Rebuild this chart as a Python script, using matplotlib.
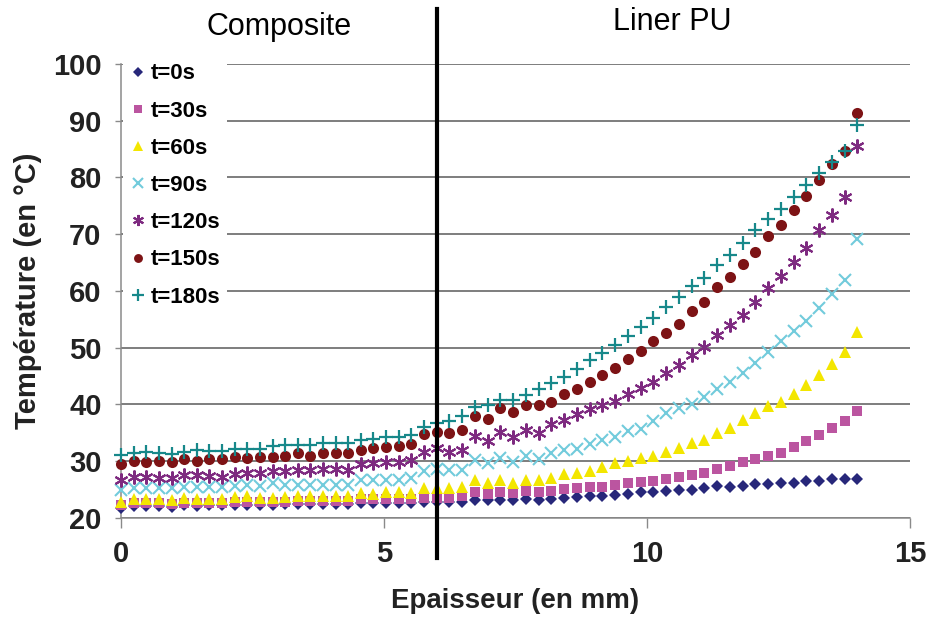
import matplotlib

matplotlib.use("Agg")
import matplotlib.pyplot as plt

plt.rcParams["font.family"] = ["Liberation Sans", "DejaVu Sans"]

# thickness positions (mm): composite 0-6 mm, PU liner 6-14 mm
X = [0.00, 0.24, 0.48, 0.72, 0.96, 1.20, 1.44, 1.68, 1.92, 2.16, 2.40, 2.64, 2.88,
     3.12, 3.36, 3.60, 3.84, 4.08, 4.32, 4.56, 4.80, 5.04, 5.28, 5.52, 5.76, 6.00,
     6.24, 6.48, 6.73, 6.97, 7.21, 7.45, 7.70, 7.94, 8.18, 8.42, 8.67, 8.91, 9.15,
     9.39, 9.64, 9.88, 10.12, 10.36, 10.61, 10.85, 11.09, 11.33, 11.58, 11.82,
     12.06, 12.30, 12.55, 12.79, 13.03, 13.27, 13.52, 13.76, 14.00]

T0 = [21.8, 22.1, 22.1, 22.1, 22.0, 22.2, 22.1, 22.2, 22.2, 22.3, 22.3, 22.3, 22.3, 22.4,
      22.4, 22.4, 22.5, 22.5, 22.5, 22.6, 22.6, 22.7, 22.7, 22.7, 22.8, 22.9,
      22.8, 22.8, 23.2, 23.1, 23.2, 23.2, 23.4, 23.2, 23.4, 23.5, 23.7, 23.8, 23.9, 24.1, 24.2, 24.5,
      24.6, 24.8, 24.9, 24.9, 25.2, 25.6, 25.5, 25.6, 26.0, 26.0, 26.2, 26.2, 26.6, 26.6, 26.8, 26.8, 26.8]
T30 = [22.3, 22.6, 22.6, 22.6, 22.5, 22.7, 22.6, 22.6, 22.6, 22.8, 22.9, 22.8, 22.8, 22.9,
       23.0, 23.0, 23.0, 23.0, 23.0, 23.3, 23.3, 23.4, 23.4, 23.4, 23.6, 23.6,
       23.6, 23.8, 24.5, 24.2, 24.5, 24.4, 24.8, 24.5, 24.8, 25.1, 25.2, 25.4, 25.4, 25.8, 26.1, 26.4,
       26.5, 26.8, 27.3, 27.6, 27.9, 28.6, 29.2, 29.8, 30.4, 30.9, 31.5, 32.5, 33.5, 34.6, 35.8, 37.1, 38.9]
T60 = [22.9, 23.4, 23.4, 23.4, 23.2, 23.5, 23.4, 23.4, 23.4, 23.7, 23.8, 23.5, 23.5, 23.7,
       23.9, 23.9, 23.9, 23.9, 23.9, 24.4, 24.2, 24.5, 24.5, 24.4, 25.2, 25.2,
       25.2, 25.5, 26.7, 26.1, 26.7, 26.2, 26.7, 26.7, 27.0, 27.8, 28.0, 28.3, 28.9, 29.6, 30.1, 30.5,
       31.0, 31.7, 32.3, 33.2, 33.8, 35.0, 35.9, 37.2, 38.5, 39.8, 40.5, 41.9, 43.5, 45.2, 47.1, 49.3, 52.7]
T90 = [24.9, 25.2, 25.2, 25.2, 25.2, 25.5, 25.4, 25.4, 25.4, 25.7, 25.8, 25.7, 26.1, 25.8,
       25.8, 25.8, 25.8, 25.8, 25.8, 26.7, 26.7, 26.7, 26.7, 27.0, 28.2, 28.6,
       28.5, 28.5, 30.2, 29.6, 30.5, 29.9, 31.0, 30.4, 31.4, 32.0, 32.2, 33.1, 33.8, 34.3, 35.3, 35.6,
       37.0, 38.5, 39.3, 40.1, 41.4, 42.7, 44.0, 45.5, 47.3, 49.2, 51.1, 52.9, 54.7, 57.0, 59.5, 62.0, 69.2]
T120 = [26.7, 27.2, 27.2, 27.0, 27.0, 27.6, 27.5, 27.4, 27.3, 27.8, 28.0, 27.9, 28.2, 28.3,
        28.5, 28.5, 28.6, 28.6, 28.5, 29.5, 29.6, 29.9, 29.9, 30.2, 31.7, 32.3,
        31.7, 32.0, 34.5, 33.6, 35.1, 34.2, 35.5, 35.0, 36.5, 37.3, 38.3, 39.2, 39.9, 40.6, 41.9, 42.9,
        44.0, 45.6, 47.0, 48.7, 50.2, 52.3, 54.0, 55.8, 58.0, 60.5, 62.7, 65.1, 67.6, 70.7, 73.4, 76.5, 85.5]
T150 = [29.5, 30.1, 29.9, 30.1, 29.8, 30.4, 30.1, 30.4, 30.4, 30.7, 30.6, 30.7, 30.7, 31.0,
        31.4, 31.0, 31.4, 31.4, 31.4, 32.0, 32.3, 32.5, 32.6, 33.0, 34.8, 35.2,
        34.9, 35.5, 37.9, 37.5, 39.3, 38.7, 39.9, 39.9, 40.5, 41.8, 42.8, 43.9, 45.2, 46.5, 48.0, 49.5,
        51.1, 52.6, 54.2, 56.4, 58.1, 60.7, 62.5, 64.7, 66.9, 69.6, 71.7, 74.2, 76.7, 79.5, 82.3, 84.7, 91.3]
T180 = [31.1, 31.4, 31.6, 31.5, 31.2, 31.7, 31.9, 31.8, 31.8, 32.1, 32.2, 32.2, 32.6, 32.8,
        32.9, 32.9, 33.2, 33.2, 33.2, 33.8, 33.9, 34.3, 34.3, 34.6, 36.1, 36.8,
        37.0, 37.9, 39.5, 39.9, 40.8, 40.8, 41.7, 42.7, 43.8, 44.9, 46.2, 47.9, 49.0, 50.5, 52.1, 53.6,
        55.2, 57.2, 58.9, 60.8, 62.3, 64.5, 66.4, 68.4, 70.7, 72.6, 74.4, 76.5, 78.7, 80.7, 82.7, 84.7, 89.3]

LABELS = ["t=0s", "t=30s", "t=60s", "t=90s", "t=120s", "t=150s", "t=180s"]
SERIES = [T0, T30, T60, T90, T120, T150, T180]
STYLES = [
    dict(marker="D", color="#27277a", ms=6.3, mew=0),
    dict(marker="s", color="#bb55a0", ms=7.6, mew=0),
    dict(marker="^", color="#f3e600", ms=9.0, mew=0),
    dict(marker="x", color="#72cbdc", ms=8.8, mew=1.5),
    dict(marker=(6, 2, 0), color="#7e2a80", ms=10, mew=1.5),
    dict(marker="o", color="#7d1315", ms=8.0, mew=0),
    dict(marker="+", color="#17888a", ms=10, mew=1.6),
]
INTERFACE = 6.0  # composite / liner boundary, mm

fig = plt.figure(figsize=(9.26, 6.21), dpi=100)
ax = fig.add_axes([0.1307, 0.1659, 0.852, 0.7311])

for y, lbl, st in zip(SERIES, LABELS, STYLES):
    ax.plot(X, y, linestyle="none", label=lbl, clip_on=False, zorder=3, **st)

ax.set_xlim(0, 15)
ax.set_ylim(20, 100)
ax.set_xticks([0, 5, 10, 15])
ax.set_yticks(range(20, 101, 10))
ax.yaxis.grid(True, color="#5a5a5a", lw=1.1)
ax.set_axisbelow(True)
for s in ("top", "right"):
    ax.spines[s].set_visible(False)
for s in ("left", "bottom"):
    ax.spines[s].set_color("#8a8a8a")
    ax.spines[s].set_linewidth(1.1)
ax.tick_params(axis="y", direction="out", length=4, width=1, color="#8a8a8a", pad=10,
               labelsize=21)
ax.tick_params(axis="x", direction="out", length=7, width=1, color="#8a8a8a", pad=9,
               labelsize=21)
for t in ax.get_xticklabels() + ax.get_yticklabels():
    t.set_fontweight("bold")
    t.set_color("#222222")

ax.set_xlabel("Epaisseur (en mm)", fontsize=20, fontweight="bold", color="#222222", labelpad=14)
ax.set_ylabel("Température (en °C)", fontsize=21, fontweight="bold", color="#222222", labelpad=8)

ax.axvline(INTERFACE, ymin=-0.088, ymax=1.12, color="black", lw=3, clip_on=False, zorder=5)
fig.text(279 / 926, 1 - 27 / 621, "Composite", fontsize=22, ha="center", va="center")
fig.text(672 / 926, 1 - 22 / 621, "Liner PU", fontsize=22, ha="center", va="center")

leg = ax.legend(loc="upper left", bbox_to_anchor=(0.0, 1.021), frameon=True, fancybox=False,
                facecolor="white", edgecolor="none", framealpha=1,
                prop={"weight": "bold", "size": 16}, handlelength=0.7, handletextpad=0.25,
                labelspacing=0.73, borderpad=0.3, borderaxespad=0.1, markerscale=0.8)
leg.set_zorder(4)

fig.savefig("out.png", dpi=100)
